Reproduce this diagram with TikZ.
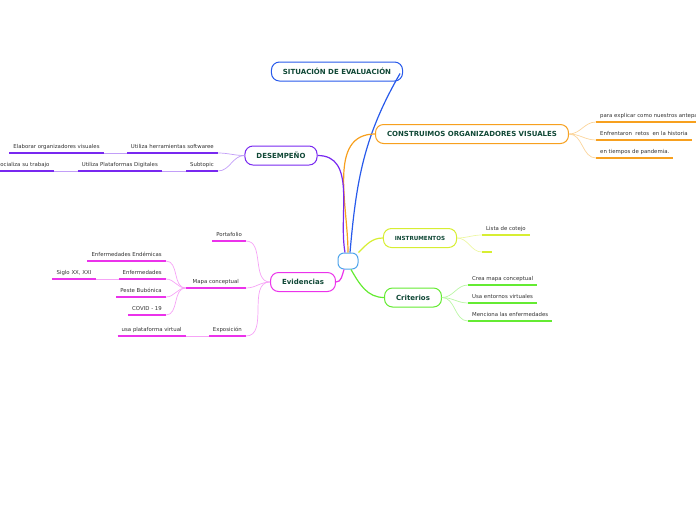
\documentclass[tikz,border=0pt]{standalone}
\usepackage{fontspec}
\setmainfont{DejaVu Sans}
\usetikzlibrary{positioning}
\definecolor{sitblue}{RGB}{40,90,235}
\definecolor{consorange}{RGB}{247,160,30}
\definecolor{despurple}{RGB}{120,40,240}
\definecolor{insyellow}{RGB}{215,238,50}
\definecolor{crigreen}{RGB}{100,235,50}
\definecolor{evimagenta}{RGB}{235,50,235}
\definecolor{rootblue}{RGB}{80,165,235}
\definecolor{headtext}{RGB}{16,72,54}
\definecolor{leaftext}{RGB}{50,50,50}

\tikzset{
  topic/.style={draw=#1, line width=1pt, rounded corners=8pt, fill=white, inner xsep=11.5pt, inner ysep=0pt, minimum height=19pt, text=headtext, font=\fontsize{7}{8}\selectfont\bfseries},
  leaf/.style={inner xsep=4pt, inner ysep=3pt, text height=4pt, text depth=1.3pt, text=leaftext, font=\fontsize{5.4}{6}\selectfont,
    append after command={(\tikzlastnode.south west) edge[draw=#1, line width=1.4pt] (\tikzlastnode.south east)}},
  branch/.style={line width=1.2pt, draw=#1},
  twig/.style={line width=0.7pt, draw=#1!45},
}

\begin{document}
\begin{tikzpicture}[x=1pt,y=1pt]
\useasboundingbox (0,0) rectangle (696,-520);
\clip (0,0) rectangle (696,-520);

% central topic
\node[draw=rootblue, line width=1pt, rounded corners=6pt, minimum width=20pt, minimum height=16pt] (root) at (348,-261) {};

% main topics
\node[topic=sitblue] (sit) at (337,-71.5) {SITUACIÓN DE EVALUACIÓN};
\node[topic=consorange] (cons) at (472,-134) {CONSTRUIMOS ORGANIZADORES VISUALES};
\node[topic=despurple] (des) at (281,-155.5) {DESEMPEÑO};
\node[topic=insyellow, font=\fontsize{5.6}{7}\selectfont\bfseries] (ins) at (420,-238) {INSTRUMENTOS};
\node[topic=crigreen] (cri) at (413,-297.5) {Criterios};
\node[topic=evimagenta] (evi) at (303,-282) {Evidencias};

\draw[branch=sitblue] ([xshift=2pt]root.north) to[out=85,in=240] ([xshift=-3pt,yshift=-2pt]sit.east);
\draw[branch=consorange] (root.north) to[out=90,in=180] (cons.west);
\draw[branch=despurple] (des.east) to[out=0,in=100] ([xshift=-3pt]root.north);
\draw[branch=insyellow] (root.north east) to[out=45,in=180] (ins.west);
\draw[branch=crigreen] ([xshift=3pt]root.south) to[out=-60,in=180] (cri.west);
\draw[branch=evimagenta] ([xshift=-4pt]root.south) to[out=-110,in=0] (evi.east);

% construimos
\node[leaf=consorange, anchor=south west] (o1) at (596,-122) {para explicar como nuestros antepasados};
\node[leaf=consorange, anchor=south west] (o2) at (596,-140) {Enfrentaron~ retos~ en la historia};
\node[leaf=consorange, anchor=south west] (o3) at (596,-158) {en tiempos de pandemia.};
\foreach \n in {o1,o2,o3}
  \draw[twig=consorange] (cons.east) to[out=0,in=180] (\n.south west);

% instrumentos
\node[leaf=insyellow, anchor=south west] (y1) at (482,-235) {Lista de cotejo};
\node[leaf=insyellow, anchor=south west, minimum width=10pt] (y2) at (482,-252) {};
\foreach \n in {y1,y2}
  \draw[twig=insyellow] (ins.east) to[out=0,in=180] (\n.south west);

% criterios
\node[leaf=crigreen, anchor=south west] (c1) at (468,-285) {Crea mapa conceptual};
\node[leaf=crigreen, anchor=south west] (c2) at (468,-303) {Usa entornos virtuales};
\node[leaf=crigreen, anchor=south west] (c3) at (468,-321) {Menciona las enfermedades};
\foreach \n in {c1,c2,c3}
  \draw[twig=crigreen] (cri.east) to[out=0,in=180] (\n.south west);

% desempeno
\node[leaf=despurple, anchor=south east] (d1) at (218,-153) {Utiliza herramientas softwaree};
\node[leaf=despurple, left=23pt of d1] (d11) {Elaborar organizadores visuales};
\node[leaf=despurple, anchor=south east] (d2) at (218,-171) {Subtopic};
\node[leaf=despurple, left=24pt of d2] (d21) {Utiliza Plataformas Digitales};
\node[leaf=despurple, left=24pt of d21] (d211) {Socializa su trabajo};
\foreach \n in {d1,d2}
  \draw[twig=despurple] (des.west) to[out=180,in=0] (\n.south east);
\draw[twig=despurple] (d1.south west) -- (d11.south east);
\draw[twig=despurple] (d2.south west) -- (d21.south east);
\draw[twig=despurple] (d21.south west) -- (d211.south east);

% evidencias
\node[leaf=evimagenta, anchor=south east] (e1) at (246,-241) {Portafolio};
\node[leaf=evimagenta, anchor=south east, minimum width=60pt] (e2) at (246,-288) {Mapa conceptual};
\node[leaf=evimagenta, anchor=south east] (e3) at (246,-336) {Exposición};
\foreach \n in {e1,e2,e3}
  \draw[twig=evimagenta] (evi.west) to[out=180,in=0] (\n.south east);

\node[leaf=evimagenta, anchor=south east] (e21) at (166,-261) {Enfermedades Endémicas};
\node[leaf=evimagenta, anchor=south east] (e22) at (166,-279) {Enfermedades};
\node[leaf=evimagenta, left=23pt of e22] (e221) {Siglo XX, XXI};
\node[leaf=evimagenta, anchor=south east] (e23) at (166,-297) {Peste Bubónica};
\node[leaf=evimagenta, anchor=south east] (e24) at (166,-315) {COVID - 19};
\foreach \n in {e21,e22,e23,e24}
  \draw[twig=evimagenta] (e2.south west) to[out=180,in=0] (\n.south east);
\draw[twig=evimagenta] (e22.south west) -- (e221.south east);

\node[leaf=evimagenta, left=23pt of e3] (e31) {usa plataforma virtual};
\draw[twig=evimagenta] (e3.south west) -- (e31.south east);
\end{tikzpicture}
\end{document}
